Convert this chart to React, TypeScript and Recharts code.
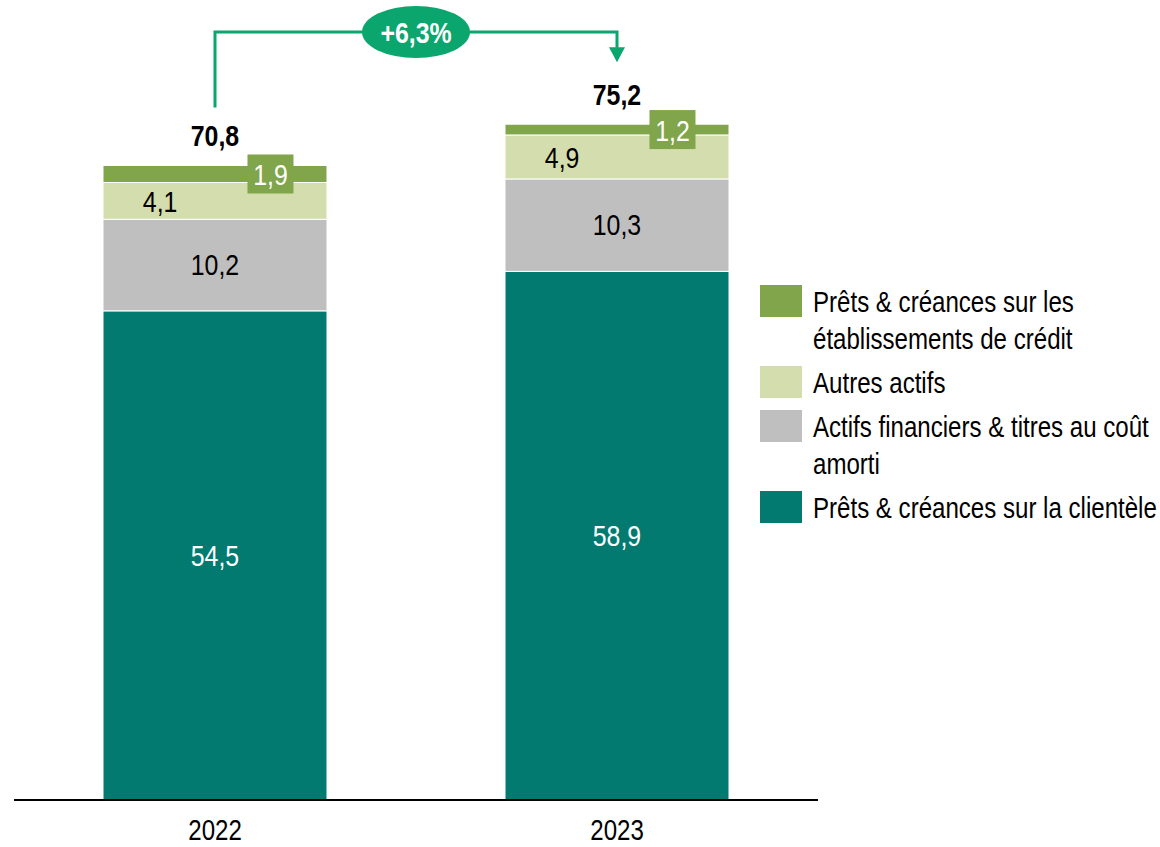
import React from 'react';
import { BarChart, Bar, XAxis, YAxis, LabelList, Legend } from 'recharts';

const categories = ['2022', '2023'];
const clientele = [54.5, 58.9];
const actifsFinanciers = [10.2, 10.3];
const autresActifs = [4.1, 4.9];
const etablissements = [1.9, 1.2];
const totals = [70.8, 75.2];
const growthLabel = '+6,3%';

const seriesNames = {
  etablissements: 'Prêts & créances sur les\nétablissements de crédit',
  autresActifs: 'Autres actifs',
  actifsFinanciers: 'Actifs financiers & titres au coût\namorti',
  clientele: 'Prêts & créances sur la clientèle',
};

const COLORS = {
  clientele: '#027A70',
  actifsFinanciers: '#BFBFBF',
  autresActifs: '#D3DDAE',
  etablissements: '#80A54A',
  arrow: '#0AA66D',
};

const data = categories.map((year, i) => ({
  year,
  clientele: clientele[i],
  actifsFinanciers: actifsFinanciers[i],
  autresActifs: autresActifs[i],
  etablissements: etablissements[i],
  total: totals[i],
}));

const W = 1160;
const H = 847;
const AXIS_H = 47;
const MARGIN = { top: 82, right: 342, bottom: 0, left: 14 };
const Y_MAX = 80;
const PLOT_W = W - MARGIN.left - MARGIN.right;
const PLOT_H = H - MARGIN.top - MARGIN.bottom - AXIS_H;
const STEP = PLOT_W / categories.length;
const PPU = PLOT_H / Y_MAX;
const BOTTOM = MARGIN.top + PLOT_H;

const FONT = "'Liberation Sans', Arial, sans-serif";
const SX = 0.83;
const fmt = (v: number) => v.toFixed(1).replace('.', ',');

const NText = ({ x, y, fill, size = 30, bold = false, children }: any) => (
  <text transform={`translate(${x},${y}) scale(${SX},1)`} x={0} y={0} fill={fill} fontSize={size}
    fontWeight={bold ? 'bold' : 'normal'} fontFamily={FONT} textAnchor="middle" dominantBaseline="central">
    {children}
  </text>
);

const idxOf = (x: number, width: number) =>
  Math.max(0, Math.min(categories.length - 1, Math.round((x + width / 2 - MARGIN.left - STEP / 2) / STEP)));

const centerLabel = (color: string) => (props: any) => {
  const { x, y, width, height, value } = props;
  return <NText x={x + width / 2} y={y + height / 2} fill={color}>{fmt(Number(value))}</NText>;
};

const autresLabel = (props: any) => {
  const { x, y, width, height, value } = props;
  return <NText x={x + width * 0.255} y={y + height / 2 + 1} fill="#000">{fmt(Number(value))}</NText>;
};

const topLabel = (props: any) => {
  const { x, y, width, height, value } = props;
  const i = idxOf(x, width);
  const cx = x + width / 2;
  const boxW = 46;
  const boxH = 39;
  const boxX = x + width * 0.645;
  const boxY = y + height / 2 - boxH / 2;
  const elements: React.ReactNode[] = [];
  elements.push(
    <rect key="box" x={boxX} y={boxY} width={boxW} height={boxH} fill={COLORS.etablissements} />,
    <NText key="val" x={boxX + boxW / 2} y={boxY + boxH / 2 + 1} fill="#fff">{fmt(Number(value))}</NText>,
    <NText key="tot" x={cx} y={y - 30} fill="#000" bold>{fmt(totals[i])}</NText>
  );
  if (i === 1) {
    const top0 = BOTTOM - totals[0] * PPU;
    const cx0 = cx - STEP;
    const lineY = 32;
    const tipY = y - 62;
    const midX = (cx0 + cx) / 2;
    elements.push(
      <polyline key="arr" points={`${cx0},${top0 - 57} ${cx0},${lineY} ${cx},${lineY} ${cx},${tipY - 14}`}
        fill="none" stroke={COLORS.arrow} strokeWidth={3} />,
      <polygon key="head" points={`${cx - 8},${tipY - 15} ${cx + 8},${tipY - 15} ${cx},${tipY}`} fill={COLORS.arrow} />,
      <ellipse key="ell" cx={midX} cy={lineY} rx={54} ry={26} fill={COLORS.arrow} />,
      <NText key="g" x={midX} y={lineY + 1} fill="#fff" bold>{growthLabel}</NText>
    );
  }
  return <g>{elements}</g>;
};

const XTick = (props: any) => {
  const { x, y, payload } = props;
  return <NText x={x} y={y + 12} fill="#000" size={29}>{payload.value}</NText>;
};

const legendOrder: (keyof typeof seriesNames)[] = ['etablissements', 'autresActifs', 'actifsFinanciers', 'clientele'];

const renderLegend = () => (
  <div style={{ fontFamily: FONT, fontSize: 29, lineHeight: '37px', color: '#000' }}>
    {legendOrder.map((k) => (
      <div key={k} style={{ display: 'flex', alignItems: 'flex-start', marginBottom: 8 }}>
        <div style={{ width: 42, height: 32, background: COLORS[k], flex: '0 0 auto' }} />
        <div style={{ marginLeft: 11, whiteSpace: 'pre', marginTop: -1, transform: `scaleX(${SX})`, transformOrigin: 'left top' }}>
          {seriesNames[k]}
        </div>
      </div>
    ))}
  </div>
);

export default function App() {
  return (
    <div style={{ position: 'absolute', left: 0, top: 0, width: W, height: H, background: '#fff', overflow: 'hidden' }}>
      <BarChart width={W} height={H} data={data} margin={MARGIN} barSize={224}>
        <XAxis dataKey="year" height={AXIS_H} axisLine={{ stroke: '#000', strokeWidth: 2 }} tickLine={false} tickSize={0}
          tickMargin={18} tick={<XTick />} />
        <YAxis hide domain={[0, Y_MAX]} />
        <Legend layout="vertical" align="center" verticalAlign="middle" content={renderLegend}
          wrapperStyle={{ position: 'absolute', left: 760, top: 285, width: 400 }} />
        <Bar dataKey="clientele" name={seriesNames.clientele} stackId="a" fill={COLORS.clientele}
          stroke="#fff" strokeWidth={1} isAnimationActive={false}>
          <LabelList dataKey="clientele" content={centerLabel('#fff')} />
        </Bar>
        <Bar dataKey="actifsFinanciers" name={seriesNames.actifsFinanciers} stackId="a" fill={COLORS.actifsFinanciers}
          stroke="#fff" strokeWidth={1} isAnimationActive={false}>
          <LabelList dataKey="actifsFinanciers" content={centerLabel('#000')} />
        </Bar>
        <Bar dataKey="autresActifs" name={seriesNames.autresActifs} stackId="a" fill={COLORS.autresActifs}
          stroke="#fff" strokeWidth={1} isAnimationActive={false}>
          <LabelList dataKey="autresActifs" content={autresLabel} />
        </Bar>
        <Bar dataKey="etablissements" name={seriesNames.etablissements} stackId="a" fill={COLORS.etablissements}
          stroke="#fff" strokeWidth={1} isAnimationActive={false}>
          <LabelList dataKey="etablissements" content={topLabel} />
        </Bar>
      </BarChart>
    </div>
  );
}
